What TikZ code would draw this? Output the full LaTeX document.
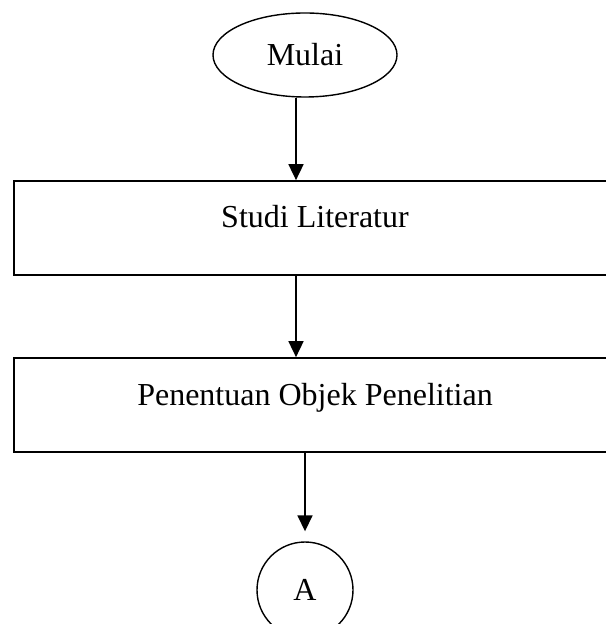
\documentclass[tikz,border=0pt]{standalone}
\usepackage{fontspec}
\setmainfont{Liberation Serif}
\usetikzlibrary{shapes.geometric}
\usetikzlibrary{arrows.meta}

\tikzset{
  flowline/.style={-{Triangle[length=8pt,width=7.5pt]}, line width=0.85pt},
  prosesbox/.style={draw, line width=0.85pt, rectangle, inner sep=0pt, minimum width=301pt, text height=23.5pt, text depth=23.5pt},
}

\begin{document}
\begin{tikzpicture}[x=0.5pt, y=-0.5pt, font=\fontsize{16}{19}\selectfont]
            \useasboundingbox (0,0) rectangle (605,624);
            \node (mulai) [draw, ellipse, line width=0.7pt, minimum width=92pt, minimum height=42pt, inner sep=0pt] at (305,55) {Mulai};
            \node (studi) [prosesbox] at (315,228) {Studi Literatur};
            \node (objek) [prosesbox] at (315,405) {Penentuan Objek Penelitian};
            \node (konektorA) [draw, circle, line width=0.7pt, minimum size=48pt, inner sep=0pt] at (305,590) {A};
            \draw [flowline] ([xshift=-4.5pt]mulai.south) -- ([xshift=-4.5pt]mulai.south |- studi.north);
            \draw [flowline] ([xshift=-9.5pt]studi.south) -- ([xshift=-9.5pt]objek.north);
            \draw [flowline, shorten >=5pt] (objek.south -| konektorA.north) -- (konektorA.north);
        \end{tikzpicture}
\end{document}
